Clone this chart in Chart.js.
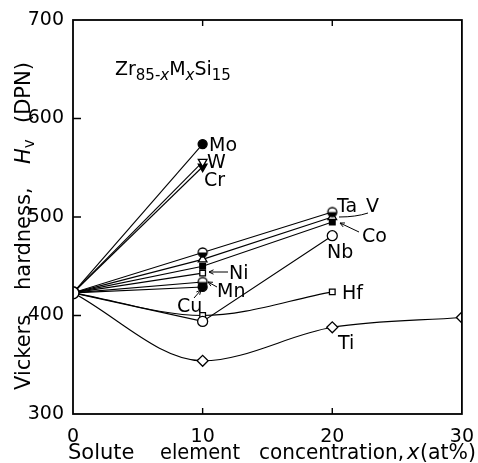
<!DOCTYPE html>
<html>
<head>
<meta charset="utf-8">
<script src="https://cdn.jsdelivr.net/npm/chart.js@4.4.1/dist/chart.umd.min.js"></script>
<style>
  body { margin: 0; background: #fff; }
  canvas { display: block; }
</style>
</head>
<body>
<canvas id="hardness" width="478" height="463"></canvas>
<script>
// Solute concentration x (at%) and Vickers hardness Hv (DPN) for Zr85-xMxSi15
const conc = [0, 10, 20, 30];
const hvBase = 423;
const hvMo = [hvBase, 574];
const hvW = [hvBase, 556];
const hvCr = [hvBase, 551];
const hvTa = [hvBase, 464, 505];
const hvV = [hvBase, 457, 500];
const hvCo = [hvBase, 450, 495];
const hvNi = [hvBase, 443];
const hvMn = [hvBase, 434];
const hvCu = [hvBase, 429];
const hvNb = [hvBase, 394, 481];
const hvHf = [hvBase, 400, 424];
const hvTi = [hvBase, 354, 388, 398];

const xTicks = [10, 20];
const yTicks = [400, 500, 600];

const FONT = "DejaVu Sans";

// half-filled circle marker
function halfCircle(r) {
  const c = document.createElement("canvas");
  c.width = c.height = r * 2 + 4;
  const g = c.getContext("2d");
  const m = r + 2;
  g.fillStyle = "#fff";
  g.beginPath(); g.arc(m, m, r, 0, Math.PI * 2); g.fill();
  g.fillStyle = "#000";
  g.beginPath(); g.arc(m, m, r, 0, Math.PI); g.fill();
  g.strokeStyle = "#000"; g.lineWidth = 1.3;
  g.beginPath(); g.arc(m, m, r, 0, Math.PI * 2); g.stroke();
  return c;
}

function series(values, style, filled, size, curved, rotation) {
  return {
    data: values.map((v, i) => ({ x: conc[i], y: v })),
    borderColor: "#000",
    borderWidth: 1.1,
    cubicInterpolationMode: curved ? "monotone" : "default",
    tension: 0,
    pointStyle: style,
    pointRotation: rotation || 0,
    pointRadius: ctx => (ctx.dataIndex === 0 ? 0 : size),
    pointBackgroundColor: filled ? "#000" : "#fff",
    pointBorderColor: "#000",
    pointBorderWidth: 1.3
  };
}

const datasets = [
  {
    data: [{ x: 0, y: hvBase }],
    showLine: false,
    pointStyle: "circle",
    pointRadius: 6,
    pointBackgroundColor: "#fff",
    pointBorderColor: "#000",
    pointBorderWidth: 1.5
  },
  series(hvMo, "circle", true, 4.5),
  series(hvW, "triangle", false, 5, false, 180),
  series(hvCr, "triangle", true, 5, false, 180),
  series(hvTa, halfCircle(4.5), false, 4.5),
  series(hvV, "triangle", false, 5),
  series(hvCo, "rect", true, 4),
  series(hvNi, "rect", false, 4),
  series(hvMn, halfCircle(4.5), false, 4.5),
  series(hvCu, "circle", true, 4.5),
  series(hvNb, "circle", false, 5),
  series(hvHf, "rect", false, 4, true),
  series(hvTi, "rectRot", false, 5.5, true)
];

function arrow(ctx, x1, y1, x2, y2) {
  const a = Math.atan2(y2 - y1, x2 - x1);
  ctx.beginPath();
  ctx.moveTo(x1, y1);
  ctx.lineTo(x2, y2);
  ctx.stroke();
  ctx.beginPath();
  ctx.moveTo(x2, y2);
  ctx.lineTo(x2 - 5 * Math.cos(a - 0.45), y2 - 5 * Math.sin(a - 0.45));
  ctx.moveTo(x2, y2);
  ctx.lineTo(x2 - 5 * Math.cos(a + 0.45), y2 - 5 * Math.sin(a + 0.45));
  ctx.stroke();
}

// write pieces of text one after another: [text, size, italic, dy]
function runs(ctx, x, y, parts) {
  parts.forEach(([t, size, italic, dy]) => {
    ctx.font = (italic ? "italic " : "") + size + "px '" + FONT + "'";
    ctx.fillText(t, x, y + (dy || 0));
    x += ctx.measureText(t).width;
  });
}

const framePlugin = {
  id: "frame",
  afterDraw(chart) {
    const ctx = chart.ctx;
    const a = chart.chartArea;
    const xs = chart.scales.x, ys = chart.scales.y;
    ctx.save();
    ctx.strokeStyle = "#000";
    ctx.fillStyle = "#000";
    ctx.lineWidth = 1.8;
    ctx.strokeRect(a.left, a.top, a.right - a.left, a.bottom - a.top);

    // inward tick marks
    ctx.lineWidth = 1.4;
    ctx.beginPath();
    xTicks.forEach(v => {
      const px = xs.getPixelForValue(v);
      ctx.moveTo(px, a.bottom); ctx.lineTo(px, a.bottom - 6);
      ctx.moveTo(px, a.top); ctx.lineTo(px, a.top + 6);
    });
    yTicks.forEach(v => {
      const py = ys.getPixelForValue(v);
      ctx.moveTo(a.left, py); ctx.lineTo(a.left + 8, py);
    });
    ctx.stroke();

    // axis titles
    ctx.textBaseline = "alphabetic";
    ctx.textAlign = "left";
    ctx.font = "21px '" + FONT + "'";
    ctx.fillText("Solute", 68, 459, 80);
    ctx.fillText("element", 160, 459, 80);
    ctx.fillText("concentration,", 259, 459, 145);
    ctx.font = "italic 21px '" + FONT + "'";
    ctx.fillText("x", 407, 459);
    ctx.font = "21px '" + FONT + "'";
    ctx.fillText("(at%)", 420, 459, 56);

    ctx.save();
    ctx.translate(30, 390);
    ctx.rotate(-Math.PI / 2);
    ctx.font = "21px '" + FONT + "'";
    ctx.fillText("Vickers", 0, 0);
    ctx.fillText("hardness,", 100, 0);
    runs(ctx, 226, 0, [["H", 21, true], ["v", 15, false, 4]]);
    ctx.font = "21px '" + FONT + "'";
    ctx.fillText("(DPN)", 267, 0);
    ctx.restore();

    // alloy formula
    runs(ctx, 115, 75, [
      ["Zr", 19, false], ["85-", 15, false, 5], ["x", 15, true, 5],
      ["M", 19, false], ["x", 15, true, 5],
      ["Si", 19, false], ["15", 15, false, 5]
    ]);

    // element labels
    ctx.font = "19px '" + FONT + "'";
    const labels = [
      ["Mo", 209, 151], ["W", 207, 168], ["Cr", 204, 186],
      ["Ta", 337, 212], ["V", 366, 212], ["Co", 362, 242],
      ["Nb", 327, 258], ["Ni", 229, 279], ["Mn", 217, 297],
      ["Cu", 177, 312], ["Hf", 342, 299], ["Ti", 338, 349]
    ];
    labels.forEach(([t, x, y]) => ctx.fillText(t, x, y));

    ctx.lineWidth = 1;
    ctx.beginPath();
    ctx.moveTo(368, 213); ctx.quadraticCurveTo(356, 217, 339, 217);
    ctx.stroke();
    arrow(ctx, 359, 232, 340, 223);
    arrow(ctx, 228, 272, 209, 272);
    arrow(ctx, 217, 287, 208, 282);
    arrow(ctx, 194, 298, 201, 290);
    ctx.restore();
  }
};

new Chart(document.getElementById("hardness").getContext("2d"), {
  type: "line",
  data: { datasets: datasets },
  plugins: [framePlugin],
  options: {
    responsive: false,
    animation: false,
    devicePixelRatio: 1,
    layout: { padding: { top: 20, right: 14, left: 0, bottom: 0 } },
    plugins: { legend: { display: false }, tooltip: { enabled: false } },
    scales: {
      x: {
        type: "linear",
        min: 0,
        max: 30,
        ticks: { stepSize: 10, color: "#000", padding: 4, maxRotation: 0, font: { family: FONT, size: 19 } },
        grid: { display: false },
        border: { display: false },
        afterFit: s => { s.height = 49; }
      },
      y: {
        min: 300,
        max: 700,
        ticks: { stepSize: 100, color: "#000", padding: 1, font: { family: FONT, size: 19 } },
        grid: { display: false },
        border: { display: false },
        afterFit: s => { s.width = 73; }
      }
    }
  }
});
</script>
</body>
</html>
